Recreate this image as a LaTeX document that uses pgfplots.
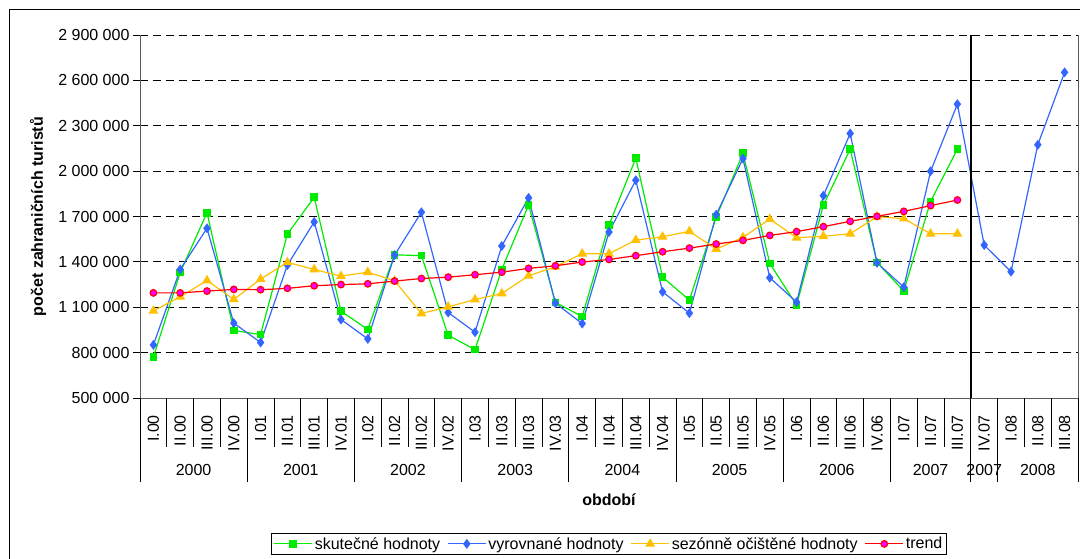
\documentclass[border=0pt]{standalone}
\usepackage{fontspec}
\setmainfont{Liberation Sans}
\usepackage{pgfplots}
\usepackage{pgfplotstable}
\pgfplotsset{compat=1.18}

\definecolor{skut}{RGB}{0,235,0}
\definecolor{vyrov}{RGB}{51,102,255}
\definecolor{sezon}{RGB}{255,192,0}
\definecolor{trendc}{RGB}{255,0,0}
\definecolor{trendfill}{RGB}{255,0,255}
\newcommand\fs{\fontsize{16}{19}\selectfont}

% x = quarter index (0 = I.00 ... 34 = III.08)
\pgfplotstableread{
x  sk      vy      se      tr
0  770000  851000  1076000 1195000
1  1330000 1350000 1169000 1195000
2  1725000 1622000 1277000 1207000
3  946000  995000  1152000 1218000
4  920000  867000  1286000 1216000
5  1584000 1379000 1397000 1225000
6  1827000 1664000 1350000 1242000
7  1074000 1019000 1306000 1250000
8  953000  891000  1332000 1255000
9  1447000 1445000 1275000 1273000
10 1441000 1728000 1059000 1290000
11 915000  1065000 1103000 1299000
12 820000  935000  1151000 1315000
13 1350000 1505000 1191000 1332000
14 1776000 1823000 1308000 1357000
15 1132000 1127000 1368000 1374000
16 1039000 992000  1454000 1399000
17 1644000 1597000 1454000 1416000
18 2085000 1940000 1544000 1441000
19 1299000 1202000 1566000 1467000
20 1147000 1061000 1602000 1491000
21 1695000 1712000 1485000 1518000
22 2118000 2083000 1562000 1542000
23 1390000 1295000 1683000 1575000
24 1114000 1134000 1560000 1600000
25 1776000 1838000 1569000 1633000
26 2145000 2249000 1586000 1668000
27 1396000 1394000 1699000 1701000
28 1207000 1233000 1686000 1734000
29 1800000 1999000 1586000 1772000
30 2145000 2443000 1586000 1809000
31 nan     1511000 nan     nan
32 nan     1335000 nan     nan
33 nan     2174000 nan     nan
34 nan     2653000 nan     nan
}\data

\begin{document}
\begin{tikzpicture}
\begin{axis}[
    scale only axis,
    width=938pt, height=363pt,
    xmin=-0.5, xmax=34.5,
    ymin=500000, ymax=2900000,
    scaled y ticks=false,
    clip=false,
    axis x line*=bottom, axis y line*=left,
    axis line style={-, draw=gray!70!black, line width=0.8pt},
    tick align=outside, major tick length=7pt,
    ytick={800000,1100000,...,2900000},
    yticklabels={800 000,1 100 000,1 400 000,1 700 000,2 000 000,2 300 000,2 600 000,2 900 000},
    extra y ticks={500000}, extra y tick labels={500 000},
    extra y tick style={grid=none},
    ymajorgrids,
    grid style={black, dash pattern=on 8pt off 5pt, line width=0.8pt},
    ytick style={black, line width=0.8pt},
    yticklabel style={font=\fs},
    xtick={0,...,34},
    xticklabels={I.00,II.00,III.00,IV.00,I.01,II.01,III.01,IV.01,I.02,II.02,III.02,IV.02,I.03,II.03,III.03,IV.03,I.04,II.04,III.04,IV.04,I.05,II.05,III.05,IV.05,I.06,II.06,III.06,IV.06,I.07,II.07,III.07,IV.07,I.08,II.08,III.08},
    xtick style={draw=none},
    xticklabel style={rotate=90, anchor=east, inner sep=0pt, font=\fs},
    xticklabel shift=10pt,
    xlabel={období},
    xlabel style={at={(axis description cs:0.5,-0.281)}, anchor=center, font=\fs\bfseries},
    ylabel={počet zahraničních turistů},
    ylabel style={at={(axis description cs:-0.1087,0.5)}, anchor=center, font=\fs\bfseries},
    legend columns=4,
    legend style={at={(axis description cs:0.5,-0.372)}, anchor=north, draw=black,
        font=\fs, inner sep=2pt,
        /tikz/every even column/.append style={column sep=5pt}},
    legend image code/.code={\draw[mark repeat=2,mark phase=2] plot coordinates {(0pt,0pt) (19pt,0pt) (38pt,0pt)};},
]
\addplot[skut, line width=1.2pt, mark=square*, mark size=3.2pt] table[x=x,y=sk]{\data};
\addlegendentry{skutečné hodnoty}
\addplot[vyrov, line width=1.2pt, mark=diamond*, mark size=4pt] table[x=x,y=vy]{\data};
\addlegendentry{vyrovnané hodnoty}
\addplot[sezon, line width=1.2pt, mark=triangle*, mark size=4.5pt] table[x=x,y=se]{\data};
\addlegendentry{sezónně očištěné hodnoty}
\addplot[trendc, line width=1.2pt, mark=*, mark size=3.3pt, mark options={fill=trendfill, draw=trendc}] table[x=x,y=tr]{\data};
\addlegendentry{trend}

% frame lines and separators
\draw[gray!70!black, line width=0.8pt] (axis cs:34.5,500000) -- (axis cs:34.5,2900000);
\draw[black, line width=2pt] (axis cs:30.5,500000) -- (axis cs:30.5,2900000);
\pgfplotsinvokeforeach{-0.5,0.5,...,34.5}{
  \draw[black, line width=0.8pt] (axis cs:#1,500000) -- ++(0pt,-49pt);
}
\pgfplotsinvokeforeach{-0.5,3.5,7.5,11.5,15.5,19.5,23.5,27.5,30.5,31.5,34.5}{
  \draw[black, line width=0.8pt] (axis cs:#1,500000) -- ++(0pt,-84pt);
}
\node[font=\fs] at ([yshift=-72pt]axis cs:1.5,500000) {2000};
\node[font=\fs] at ([yshift=-72pt]axis cs:5.5,500000) {2001};
\node[font=\fs] at ([yshift=-72pt]axis cs:9.5,500000) {2002};
\node[font=\fs] at ([yshift=-72pt]axis cs:13.5,500000) {2003};
\node[font=\fs] at ([yshift=-72pt]axis cs:17.5,500000) {2004};
\node[font=\fs] at ([yshift=-72pt]axis cs:21.5,500000) {2005};
\node[font=\fs] at ([yshift=-72pt]axis cs:25.5,500000) {2006};
\node[font=\fs] at ([yshift=-72pt]axis cs:29,500000) {2007};
\node[font=\fs] at ([yshift=-72pt]axis cs:31,500000) {2007};
\node[font=\fs] at ([yshift=-72pt]axis cs:33,500000) {2008};
\end{axis}
\draw[black, line width=1.3pt] (-130.5pt,-200pt) -- (-130.5pt,388.5pt) -- (1000pt,388.5pt);
\pgfresetboundingbox
\path[use as bounding box] (-140pt,-160pt) rectangle (940pt,398pt);
\end{tikzpicture}
\end{document}
